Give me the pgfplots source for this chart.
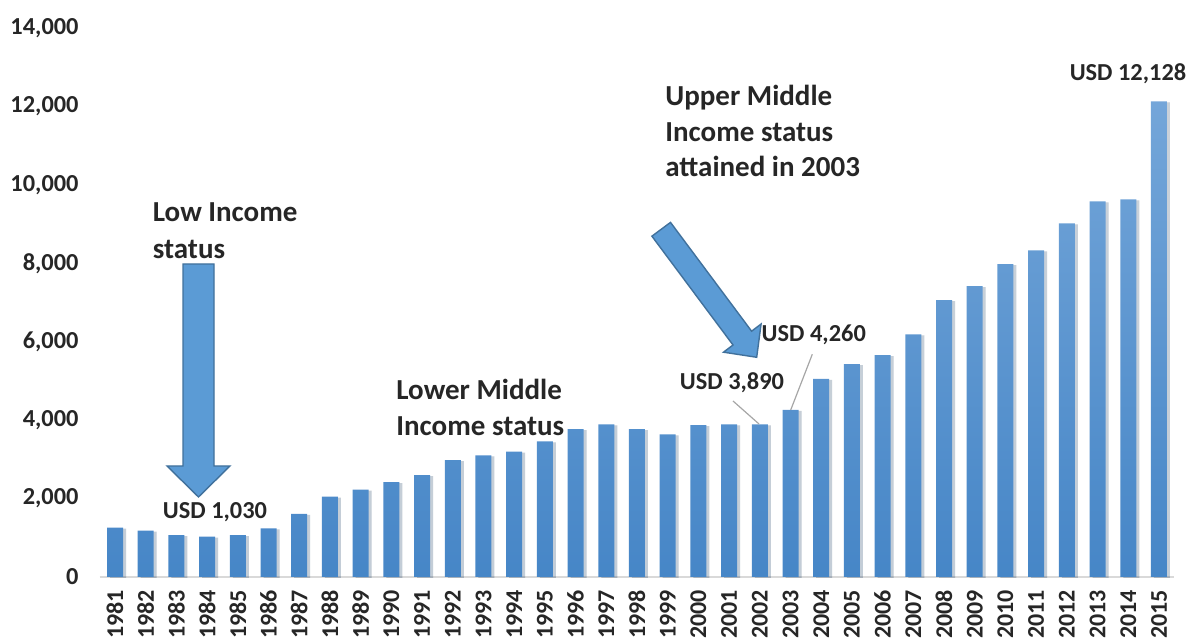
\documentclass[border=0pt]{standalone}
\usepackage{fontspec}
\setmainfont{Carlito}
\usepackage{pgfplots}
\pgfplotsset{compat=1.18}
\usetikzlibrary{calc,shadows}
\definecolor{tc}{RGB}{38,38,38}
\definecolor{bartop}{RGB}{116,166,217}
\definecolor{barmid}{RGB}{91,155,213}
\definecolor{barbot}{RGB}{70,134,199}
\definecolor{arrfill}{RGB}{91,155,213}
\definecolor{arrdraw}{RGB}{65,113,156}
\definecolor{axgray}{RGB}{217,217,217}
\definecolor{leader}{RGB}{166,166,166}
\begin{document}
\begin{tikzpicture}
\begin{axis}[
  scale only axis,
  width=537.33pt, height=274.5pt,
  xmin=-0.5, xmax=34.5,
  ymin=0, ymax=14000,
  axis x line=bottom,
  axis y line=left,
  x axis line style={-, draw=axgray, line width=1.2pt},
  y axis line style={draw=none},
  major tick length=0pt,
  xtick={0,...,34},
  xticklabels={1981,1982,1983,1984,1985,1986,1987,1988,1989,1990,1991,1992,1993,1994,1995,1996,1997,1998,1999,2000,2001,2002,2003,2004,2005,2006,2007,2008,2009,2010,2011,2012,2013,2014,2015},
  xticklabel style={rotate=90, anchor=east, font=\bfseries\fontsize{12}{14}\selectfont, text=tc, yshift=0pt, xshift=-3pt},
  ytick={0,2000,...,14000},
  scaled y ticks=false,
  yticklabel style={font=\bfseries\fontsize{12.2}{14}\selectfont, text=tc, xshift=-7pt},
  /pgf/number format/assume math mode=true,
  /pgf/number format/fixed,
  /pgf/number format/precision=0,
  /pgf/number format/1000 sep={,},
  clip=false,
]
\addplot[ybar, bar width=8pt, draw=none, top color=bartop, middle color=barmid, bottom color=barbot,
  drop shadow={shadow xshift=1.5pt, shadow yshift=-0.5pt, fill=black, opacity=0.15}]
coordinates {
(0,1260) (1,1180) (2,1070) (3,1030) (4,1070) (5,1240) (6,1610) (7,2050) (8,2230) (9,2420)
(10,2600) (11,2980) (12,3100) (13,3200) (14,3460) (15,3770) (16,3890) (17,3770) (18,3640) (19,3870)
(20,3890) (21,3890) (22,4260) (23,5050) (24,5430) (25,5660) (26,6190) (27,7060) (28,7420) (29,7980)
(30,8330) (31,9020) (32,9580) (33,9630) (34,12128)
};
\coordinate (SW) at (rel axis cs:0,0);
\end{axis}
\begin{scope}[shift={($(SW)+(-49.83pt,288.5pt)$)}, x=0.5pt, y=-0.5pt]
  % arrows
  \draw[fill=arrfill, draw=arrdraw, line width=0.7pt, line join=miter]
    (183,264)--(214,264)--(214,466)--(230,466)--(198.5,497)--(167,466)--(183,466)--cycle;
  \draw[fill=arrfill, draw=arrdraw, line width=0.7pt, line join=miter]
    (670.5,222.4)--(751.6,331.2)--(761.1,324.0)--(756.7,357.3)--(723.5,352.2)--(733.0,345.0)--(651.9,236.2)--cycle;
  % leader lines
  \draw[leader, line width=0.6pt] (733,401)--(759,424);
  \draw[leader, line width=0.6pt] (812.3,354.3)--(790.7,410);
  % annotation texts
  \begin{scope}[every node/.style={inner sep=0pt, text=tc, font=\bfseries\fontsize{14.5}{17}\selectfont}]
    \node[anchor=base west] at (152.5,221.7) {Low Income};
    \node[anchor=base west] at (152.5,258.3) {status};
    \node[anchor=base west] at (396,400) {Lower Middle};
    \node[anchor=base west] at (396,436) {Income status};
    \node[anchor=base west] at (665,106) {Upper Middle};
    \node[anchor=base west] at (665,141.5) {Income status};
    \node[anchor=base west] at (665,177) {attained in 2003};
  \end{scope}
  \begin{scope}[every node/.style={inner sep=0pt, text=tc, font=\bfseries\fontsize{12.2}{14}\selectfont}]
    \node[anchor=base] at (215,518.7) {USD 1,030};
    \node[anchor=base] at (732,390) {USD 3,890};
    \node[anchor=base] at (813.8,341.7) {USD 4,260};
    \node[anchor=base] at (1128,81) {USD 12,128};
  \end{scope}
  \pgfresetboundingbox
  \path[use as bounding box] (0,0) rectangle (1195,641);
\end{scope}
\end{tikzpicture}
\end{document}
